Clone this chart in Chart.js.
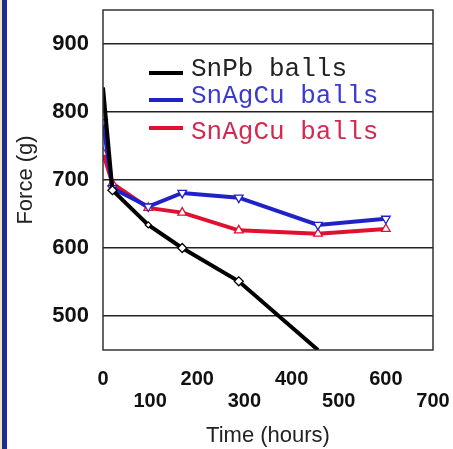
<!DOCTYPE html>
<html>
<head>
<meta charset="utf-8">
<title>Force vs time</title>
<script src="https://cdn.jsdelivr.net/npm/chart.js@4.4.1/dist/chart.umd.min.js"></script>
<style>
  html, body { margin: 0; padding: 0; background: #fff; }
  #wrap { position: relative; width: 453px; height: 449px; }
  #wrap canvas { position: absolute; left: 0; top: 0; }
  #edge { position: absolute; left: 0; top: 0; width: 7px; height: 449px; background: #1e2d8e; border-left: 2px solid #efe5c6; box-sizing: border-box; }
</style>
</head>
<body>
<div id="wrap">
  <canvas id="forceChart" width="453" height="449"></canvas>
  <div id="edge"></div>
</div>
<script>
// values
const times = [0, 20, 96, 168, 288, 456, 600];
const snpbForce = [836, 685, 634, 600, 551, 450];
const sacBlueForce = [785, 688, 661, 681, 674, 634, 643];
const sacRedForce = [740, 695, 659, 652, 626, 621, 628];
const seriesNames = ['SnPb balls', 'SnAgCu balls', 'SnAgCu balls'];
const xTicks = [0, 100, 200, 300, 400, 500, 600, 700];
const yTicks = [500, 600, 700, 800, 900];

function toPoints(values) {
    return values.map((v, i) => ({ x: times[i], y: v }));
}

// frame around the plot area
const framePlugin = {
    id: 'frame',
    afterDatasetsDraw(chart) {
        const a = chart.chartArea;
        const ctx = chart.ctx;
        ctx.save();
        ctx.strokeStyle = '#333';
        ctx.lineWidth = 1.5;
        ctx.strokeRect(a.left, a.top, a.right - a.left, a.bottom - a.top);
        ctx.restore();
    }
};

// legend drawn inside the plot, like the original
const legendRows = [
    { lineY: 73, textY: 76, textColor: '#222' },
    { lineY: 100, textY: 103, textColor: '#3a3ad0' },
    { lineY: 128, textY: 139, textColor: '#d42a52' }
];
const insideLegend = {
    id: 'insideLegend',
    afterDraw(chart) {
        const ctx = chart.ctx;
        ctx.save();
        ctx.font = '26px "Liberation Mono", monospace';
        ctx.textBaseline = 'alphabetic';
        chart.data.datasets.forEach((ds, i) => {
            const row = legendRows[i];
            ctx.strokeStyle = ds.borderColor;
            ctx.lineWidth = 4;
            ctx.beginPath();
            ctx.moveTo(149, row.lineY);
            ctx.lineTo(183, row.lineY);
            ctx.stroke();
            ctx.fillStyle = row.textColor;
            ctx.fillText(ds.label, 191, row.textY);
        });
        ctx.restore();
    }
};

const ctx = document.getElementById('forceChart').getContext('2d');
new Chart(ctx, {
    type: 'line',
    data: {
        datasets: [{
            label: seriesNames[0],
            data: toPoints(snpbForce),
            borderColor: '#000',
            borderWidth: 4,
            pointStyle: 'rectRot',
            pointRadius: [0, 4.5, 3, 4.5, 4.5, 0],
            pointBorderColor: '#000',
            pointBackgroundColor: '#fff',
            pointBorderWidth: 1.3
        }, {
            label: seriesNames[1],
            data: toPoints(sacBlueForce),
            borderColor: '#1f22c8',
            borderWidth: 4,
            pointStyle: 'triangle',
            rotation: 180,
            pointRadius: 5,
            pointBorderColor: '#1f22c8',
            pointBackgroundColor: '#fff',
            pointBorderWidth: 1.3
        }, {
            label: seriesNames[2],
            data: toPoints(sacRedForce),
            borderColor: '#e01030',
            borderWidth: 4,
            pointStyle: 'triangle',
            pointRadius: 5,
            pointBorderColor: '#e01030',
            pointBackgroundColor: '#fff',
            pointBorderWidth: 1.3
        }]
    },
    options: {
        responsive: false,
        animation: false,
        events: [],
        layout: { padding: { left: 13, top: 10, right: 20, bottom: 0 } },
        plugins: {
            legend: { display: false },
            tooltip: { enabled: false }
        },
        scales: {
            x: {
                type: 'linear',
                min: 0,
                max: 700,
                afterBuildTicks: s => { s.ticks = xTicks.map(v => ({ value: v })); },
                afterFit: s => { s.height = 99; s.paddingLeft = 0; s.paddingRight = 0; },
                grid: { display: false, drawTicks: false },
                border: { display: false },
                ticks: {
                    autoSkip: false,
                    maxRotation: 0,
                    padding: 18,
                    color: '#111',
                    font: { family: 'Liberation Sans', size: 20, weight: 'bold', lineHeight: 1.1 },
                    // stagger every other label onto a second row
                    callback: (v, i) => i % 2 ? ['', String(v)] : String(v)
                },
                title: {
                    display: true,
                    text: 'Time (hours)',
                    color: '#222',
                    padding: 0,
                    font: { family: 'Liberation Sans', size: 22 }
                }
            },
            y: {
                min: 450,
                max: 950,
                afterBuildTicks: s => { s.ticks = yTicks.map(v => ({ value: v })); },
                afterFit: s => { s.width = 90; s.paddingTop = 0; s.paddingBottom = 0; },
                grid: { color: '#222', lineWidth: 1.5, drawTicks: false },
                border: { display: false },
                ticks: {
                    padding: 14,
                    color: '#111',
                    font: { family: 'Liberation Sans', size: 22, weight: 'bold' }
                },
                title: {
                    display: true,
                    text: 'Force (g)',
                    color: '#222',
                    padding: 0,
                    font: { family: 'Liberation Sans', size: 22 }
                }
            }
        }
    },
    plugins: [framePlugin, insideLegend]
});
</script>
</body>
</html>
